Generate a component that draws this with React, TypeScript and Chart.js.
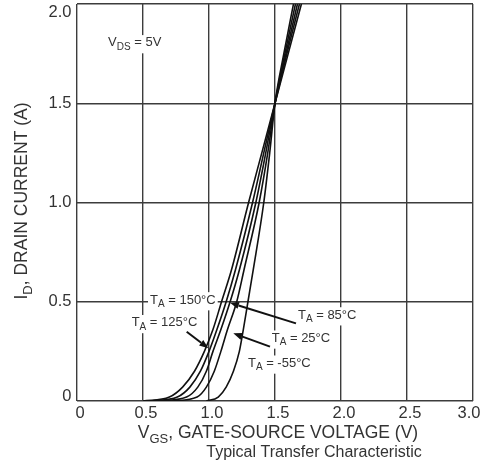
import React, { useEffect, useRef } from "react";
import { Chart, registerables } from "chart.js";

Chart.register(...registerables);

// Drain current levels (A) shared by all curves
const CURRENT_A = [0, 0.02, 0.07, 0.15, 0.25, 0.36, 0.5, 0.66, 1.0, 1.25, 1.5, 1.75, 2.0];
// Gate-source voltage (V) at each current level, per ambient temperature
const VGS_150C = [0.5, 0.7, 0.8, 0.89, 0.965, 1.03, 1.095, 1.17, 1.3, 1.4, 1.5, 1.6, 1.7];
const VGS_125C = [0.56, 0.76, 0.855, 0.935, 1.0, 1.06, 1.13, 1.2, 1.33, 1.415, 1.5, 1.59, 1.685];
const VGS_85C = [0.63, 0.83, 0.915, 0.98, 1.03, 1.09, 1.16, 1.23, 1.355, 1.43, 1.5, 1.583, 1.67];
const VGS_25C = [0.72, 0.91, 0.98, 1.04, 1.09, 1.14, 1.21, 1.265, 1.38, 1.445, 1.5, 1.575, 1.655];
const VGS_M55C = [0.98, 1.07, 1.13, 1.185, 1.23, 1.26, 1.295, 1.335, 1.415, 1.46, 1.5, 1.567, 1.64];

const SERIES_NAMES = ["150°C", "125°C", "85°C", "25°C", "-55°C"];
const SERIES_VALUES = [VGS_150C, VGS_125C, VGS_85C, VGS_25C, VGS_M55C];

const X_TICK_VALUES = [0, 0.5, 1.0, 1.5, 2.0, 2.5, 3.0];
const X_TICK_LABELS = ["0", "0.5", "1.0", "1.5", "2.0", "2.5", "3.0"];
const Y_TICK_VALUES = [0, 0.5, 1.0, 1.5, 2.0];
const Y_TICK_LABELS = ["0", "0.5", "1.0", "1.5", "2.0"];

const FONT = '"Liberation Sans", Arial, Helvetica, sans-serif';
const TEXT = "#333";
const GRID = "#3c3c3c";

type Part = [string, boolean];

function drawRich(
  ctx: CanvasRenderingContext2D,
  parts: Part[],
  x: number,
  y: number,
  size: number,
  align: "left" | "center" | "right",
  bg = false
) {
  const subSize = Math.round(size * 0.75);
  const widths = parts.map(([t, sub]) => {
    ctx.font = `${sub ? subSize : size}px ${FONT}`;
    return ctx.measureText(t).width;
  });
  const w = widths.reduce((a, b) => a + b, 0);
  let cx = align === "center" ? x - w / 2 : align === "right" ? x - w : x;
  if (bg) {
    ctx.fillStyle = "#fff";
    ctx.fillRect(cx - 2, y - size * 0.6, w + 4, size * 1.4);
  }
  ctx.fillStyle = TEXT;
  ctx.textAlign = "left";
  ctx.textBaseline = "middle";
  parts.forEach(([t, sub], i) => {
    ctx.font = `${sub ? subSize : size}px ${FONT}`;
    ctx.fillText(t, cx, y + (sub ? size * 0.34 : 0));
    cx += widths[i];
  });
  return w;
}

function arrow(ctx: CanvasRenderingContext2D, x1: number, y1: number, x2: number, y2: number) {
  const ang = Math.atan2(y2 - y1, x2 - x1);
  const len = 9;
  const hw = 3.5;
  const bx = x2 - len * Math.cos(ang);
  const by = y2 - len * Math.sin(ang);
  ctx.strokeStyle = "#111";
  ctx.lineWidth = 2;
  ctx.beginPath();
  ctx.moveTo(x1, y1);
  ctx.lineTo(bx, by);
  ctx.stroke();
  ctx.fillStyle = "#111";
  ctx.beginPath();
  ctx.moveTo(x2, y2);
  ctx.lineTo(bx + hw * Math.sin(ang), by - hw * Math.cos(ang));
  ctx.lineTo(bx - hw * Math.sin(ang), by + hw * Math.cos(ang));
  ctx.closePath();
  ctx.fill();
}

const labelsPlugin = {
  id: "labelsPlugin",
  beforeDatasetsDraw(chart: any) {
    const ctx = chart.ctx as CanvasRenderingContext2D;
    const xs = chart.scales.x;
    const ys = chart.scales.y;
    const px = (v: number) => xs.getPixelForValue(v);
    const py = (v: number) => ys.getPixelForValue(v);
    ctx.save();
    const temp = (name: string, v: number, i: number) =>
      drawRich(ctx, [["T", false], ["A", true], [" = " + name, false]], px(v), py(i), 13, "left", true);
    temp(SERIES_NAMES[0], 0.553, 0.509);
    temp(SERIES_NAMES[1], 0.414, 0.394);
    temp(SERIES_NAMES[2], 1.674, 0.433);
    temp(SERIES_NAMES[3], 1.475, 0.316);
    temp(SERIES_NAMES[4], 1.295, 0.19);
    drawRich(ctx, [["V", false], ["DS", true], [" = 5V", false]], px(0.235), py(1.804), 13, "left", true);
    ctx.restore();
  },
  afterDatasetsDraw(chart: any) {
    const ctx = chart.ctx as CanvasRenderingContext2D;
    const xs = chart.scales.x;
    const ys = chart.scales.y;
    const px = (v: number) => xs.getPixelForValue(v);
    const py = (v: number) => ys.getPixelForValue(v);
    ctx.save();
    arrow(ctx, px(0.831), py(0.349), px(0.995), py(0.266));
    arrow(ctx, px(1.659), py(0.391), px(1.159), py(0.495));
    arrow(ctx, px(1.462), py(0.274), px(1.184), py(0.341));

    ctx.fillStyle = TEXT;
    ctx.font = `16.5px ${FONT}`;
    ctx.textBaseline = "middle";
    ctx.textAlign = "center";
    X_TICK_VALUES.forEach((v, k) => {
      const off = k === X_TICK_VALUES.length - 1 ? -4 : 3;
      ctx.fillText(X_TICK_LABELS[k], px(v) + off, chart.chartArea.bottom + 12.5);
    });
    ctx.textAlign = "right";
    Y_TICK_VALUES.forEach((v, k) => {
      const off = k === 0 ? -5 : k === Y_TICK_VALUES.length - 1 ? 8 : 0;
      ctx.fillText(Y_TICK_LABELS[k], chart.chartArea.left - 5.5, py(v) + off);
    });

    drawRich(ctx, [["V", false], ["GS", true], [", GATE-SOURCE VOLTAGE (V)", false]], 278, 433, 17.5, "center");
    ctx.fillStyle = TEXT;
    ctx.font = `16px ${FONT}`;
    ctx.textAlign = "center";
    ctx.textBaseline = "middle";
    ctx.fillText("Typical Transfer Characteristic", 314, 453);

    ctx.save();
    ctx.translate(22, 201);
    ctx.rotate(-Math.PI / 2);
    drawRich(ctx, [["I", false], ["D", true], [", DRAIN CURRENT (A)", false]], 0, 0, 17.5, "center");
    ctx.restore();
    ctx.restore();
  },
};

export default function App() {
  const ref = useRef<HTMLCanvasElement>(null);
  useEffect(() => {
    if (!ref.current) return;
    const chart = new Chart(ref.current, {
      type: "scatter",
      data: {
        datasets: SERIES_NAMES.map((name, s) => ({
          label: name,
          data: CURRENT_A.map((i, k) => ({ x: SERIES_VALUES[s][k], y: i })),
          showLine: true,
          borderColor: "#111",
          borderWidth: 1.6,
          pointRadius: 0,
          cubicInterpolationMode: "monotone" as const,
          fill: false,
        })),
      },
      options: {
        responsive: false,
        animation: false,
        layout: { padding: { top: 4, right: 12, left: 0, bottom: 0 } },
        plugins: { legend: { display: false }, tooltip: { enabled: false } },
        scales: {
          x: {
            type: "linear",
            min: 0,
            max: 3,
            ticks: { stepSize: 0.5, display: false },
            grid: { color: GRID, lineWidth: 1.4, drawTicks: false },
            border: { display: false },
            afterFit: (s: any) => {
              s.height = 67;
            },
          },
          y: {
            type: "linear",
            min: 0,
            max: 2,
            ticks: { stepSize: 0.5, display: false },
            grid: { color: GRID, lineWidth: 1.4, drawTicks: false },
            border: { display: false },
            afterFit: (s: any) => {
              s.width = 77;
            },
          },
        },
      },
      plugins: [labelsPlugin],
    });
    return () => chart.destroy();
  }, []);
  return (
    <div style={{ position: "absolute", left: 0, top: 0, width: 485, height: 468, background: "#fff" }}>
      <canvas ref={ref} width={485} height={468} style={{ display: "block" }} />
    </div>
  );
}
